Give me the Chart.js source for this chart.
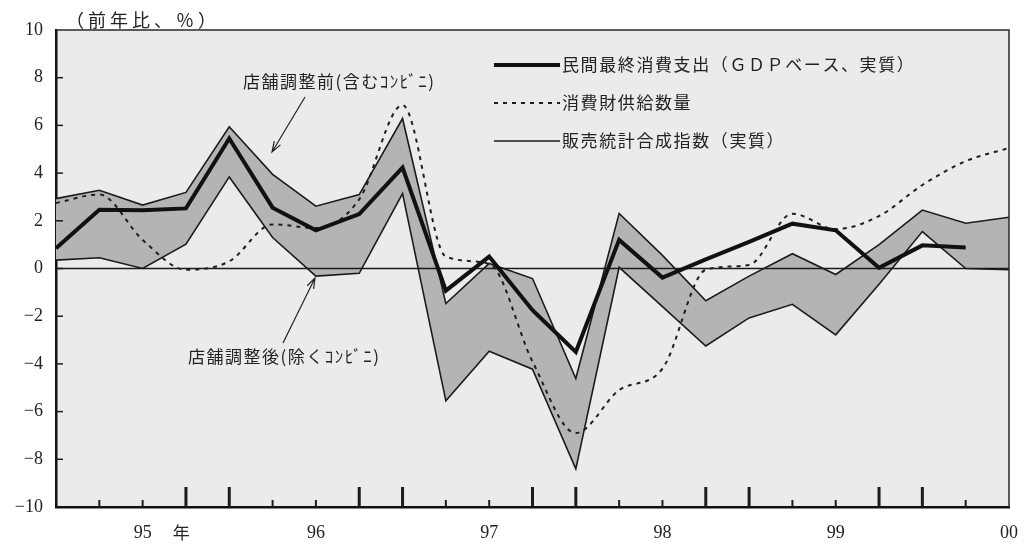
<!DOCTYPE html>
<html lang="ja">
<head>
<meta charset="utf-8">
<title>民間最終消費支出と販売統計</title>
<script src="https://cdn.jsdelivr.net/npm/chart.js@4.4.1/dist/chart.umd.min.js"></script>
<style>
    html, body { margin: 0; padding: 0; background: #ffffff; }
    #wrap { width: 1033px; height: 544px; }
</style>
</head>
<body>
<div id="wrap"><canvas id="consumptionChart" width="1033" height="544"></canvas></div>
<script>
// quarterly points, 95 through 00 (label sits under the 3rd tick of each year)
var quarterLabels = ['', '', '95', '', '', '', '96', '', '', '', '97', '', '', '', '98', '', '', '', '99', '', '', '', '00'];

// 民間最終消費支出（GDPベース、実質）
var gdpConsumption = [0.85, 2.46, 2.44, 2.52, 5.45, 2.55, 1.60, 2.28, 4.23, -0.93, 0.50, -1.75, -3.50, 1.20, -0.38, 0.38, 1.12, 1.88, 1.60, 0.03, 0.97, 0.88, null];
// 消費財供給数量
var goodsSupply = [2.75, 3.10, 1.20, -0.05, 0.30, 1.85, 1.70, 2.90, 6.85, 0.50, 0.20, -3.90, -6.90, -5.10, -4.20, -0.05, 0.15, 2.30, 1.65, 2.20, 3.50, 4.50, 5.05];
// 販売統計合成指数（実質）: 店舗調整前 / 店舗調整後
var salesBefore = [2.93, 3.28, 2.66, 3.19, 5.94, 3.95, 2.61, 3.10, 6.29, -1.47, 0.21, -0.42, -4.61, 2.31, 0.55, -1.35, -0.32, 0.62, -0.25, 1.00, 2.45, 1.90, 2.15];
var salesAfter = [0.35, 0.45, 0.00, 1.02, 3.84, 1.30, -0.32, -0.20, 3.14, -5.55, -3.47, -4.22, -8.40, 0.05, -1.60, -3.25, -2.07, -1.50, -2.78, -0.66, 1.55, 0.00, -0.05];

var yTickValues = [-10, -8, -6, -4, -2, 0, 2, 4, 6, 8, 10];

var serifFont = "'Liberation Serif', 'Noto Sans CJK JP', serif";
var cjkFont = "'Noto Sans CJK JP', 'Liberation Serif', sans-serif";
var ink = '#1b1b1b';

function drawArrow(ctx, x1, y1, x2, y2) {
    var ang = Math.atan2(y2 - y1, x2 - x1);
    var len = 11, spread = 0.33;
    ctx.beginPath();
    ctx.moveTo(x1, y1);
    ctx.lineTo(x2, y2);
    ctx.moveTo(x2 - len * Math.cos(ang - spread), y2 - len * Math.sin(ang - spread));
    ctx.lineTo(x2, y2);
    ctx.lineTo(x2 - len * Math.cos(ang + spread), y2 - len * Math.sin(ang + spread));
    ctx.stroke();
}

var decorations = {
    id: 'decorations',
    beforeDraw: function(chart) {
        var ca = chart.chartArea, ctx = chart.ctx;
        ctx.save();
        ctx.fillStyle = '#ebebea';
        ctx.fillRect(ca.left, ca.top, ca.right - ca.left, ca.bottom - ca.top);
        ctx.restore();
    },
    beforeDatasetsDraw: function(chart) {
        // zero line over the shaded band, under the series lines
        var ca = chart.chartArea, ctx = chart.ctx;
        var y0 = chart.scales.y.getPixelForValue(0);
        ctx.save();
        ctx.strokeStyle = ink;
        ctx.lineWidth = 1.5;
        ctx.beginPath();
        ctx.moveTo(ca.left, y0);
        ctx.lineTo(ca.right, y0);
        ctx.stroke();
        ctx.restore();
    },
    afterDraw: function(chart) {
        var ca = chart.chartArea, ctx = chart.ctx;
        var xs = chart.scales.x, ys = chart.scales.y;
        ctx.save();

        // top and right frame
        ctx.strokeStyle = '#2a2a2a';
        ctx.lineWidth = 1.5;
        ctx.beginPath();
        ctx.moveTo(ca.left, ca.top);
        ctx.lineTo(ca.right, ca.top);
        ctx.lineTo(ca.right, ca.bottom);
        ctx.stroke();

        // inward tick marks on the x axis
        ctx.strokeStyle = ink;
        for (var k = 1; k < quarterLabels.length - 1; k++) {
            var big = (k % 4 === 3 || k % 4 === 0);
            var px = xs.getPixelForValue(k);
            ctx.lineWidth = big ? 3 : 2;
            ctx.beginPath();
            ctx.moveTo(px, ca.bottom);
            ctx.lineTo(px, ca.bottom - (big ? 20 : 7));
            ctx.stroke();
        }
        // inward tick marks on the y axis
        ctx.lineWidth = 1.5;
        yTickValues.forEach(function(v) {
            if (v === -10 || v === 10) return;
            var py = ys.getPixelForValue(v);
            ctx.beginPath();
            ctx.moveTo(ca.left, py);
            ctx.lineTo(ca.left + 7, py);
            ctx.stroke();
        });

        // unit title and 年
        ctx.fillStyle = '#222';
        ctx.textBaseline = 'middle';
        ctx.textAlign = 'left';
        ctx.font = '18px ' + cjkFont;
        ctx.letterSpacing = '4px';
        ctx.fillText('（前年比、％）', 66, 20);
        ctx.letterSpacing = '0px';
        ctx.font = '17px ' + cjkFont;
        ctx.fillText('年', xs.getPixelForValue(2) + 30, 533);

        // legend inside the plot
        var rows = [0, 1, 2];
        rows.forEach(function(idx, r) {
            var ds = chart.data.datasets[idx];
            var ly = ca.top + 35 + r * 38;
            var lx = ca.left + 438;
            ctx.strokeStyle = ds.borderColor;
            ctx.lineWidth = ds.borderWidth;
            ctx.setLineDash(ds.borderDash || []);
            ctx.beginPath();
            ctx.moveTo(lx, ly);
            ctx.lineTo(lx + 66, ly);
            ctx.stroke();
            ctx.setLineDash([]);
            ctx.fillStyle = '#222';
            ctx.font = '17px ' + cjkFont;
            ctx.letterSpacing = '1.6px';
            ctx.fillText(ds.label, lx + 68, ly);
            ctx.letterSpacing = '0px';
        });

        // band annotations
        ctx.font = '17px ' + cjkFont;
        ctx.letterSpacing = '1.5px';
        ctx.fillStyle = '#222';
        ctx.fillText('店舗調整前(含むｺﾝﾋﾞﾆ)', 243, 82);
        ctx.fillText('店舗調整後(除くｺﾝﾋﾞﾆ)', 188, 357);
        ctx.letterSpacing = '0px';
        ctx.strokeStyle = '#222';
        ctx.lineWidth = 1.2;
        drawArrow(ctx, 305, 97, 272, 152);
        drawArrow(ctx, 283, 343, 315, 278);

        ctx.restore();
    }
};

new Chart(document.getElementById('consumptionChart').getContext('2d'), {
    type: 'line',
    data: {
        labels: quarterLabels,
        datasets: [
            {
                label: '民間最終消費支出（ＧＤＰベース、実質）',
                data: gdpConsumption,
                borderColor: '#111111',
                borderWidth: 4,
                pointRadius: 0,
                tension: 0,
                fill: false,
                order: 1
            },
            {
                label: '消費財供給数量',
                data: goodsSupply,
                borderColor: '#1e1e1e',
                borderWidth: 2,
                borderDash: [4, 5],
                pointRadius: 0,
                cubicInterpolationMode: 'monotone',
                fill: false,
                order: 2
            },
            {
                label: '販売統計合成指数（実質）',
                data: salesBefore,
                borderColor: ink,
                borderWidth: 1.6,
                pointRadius: 0,
                tension: 0,
                fill: '+1',
                backgroundColor: '#b4b4b3',
                order: 3
            },
            {
                label: '店舗調整後（除くコンビニ）',
                data: salesAfter,
                borderColor: ink,
                borderWidth: 1.6,
                pointRadius: 0,
                tension: 0,
                fill: false,
                order: 4
            }
        ]
    },
    options: {
        responsive: false,
        animation: false,
        devicePixelRatio: 1,
        layout: { padding: { top: 30, right: 16, bottom: 0, left: 0 } },
        plugins: {
            legend: { display: false },
            tooltip: { enabled: false },
            filler: { drawTime: 'beforeDatasetsDraw' }
        },
        scales: {
            x: {
                type: 'category',
                offset: false,
                grid: { display: false, drawTicks: false },
                border: { display: true, color: '#111', width: 2.5 },
                ticks: {
                    autoSkip: false,
                    maxRotation: 0,
                    padding: 15,
                    color: '#222',
                    font: { size: 18, family: serifFont }
                },
                afterFit: function(scale) { scale.height = 37; }
            },
            y: {
                min: -10,
                max: 10,
                grid: { display: false, drawTicks: false },
                border: { display: true, color: '#111', width: 2.5 },
                afterBuildTicks: function(scale) {
                    scale.ticks = yTickValues.map(function(v) { return { value: v }; });
                },
                ticks: {
                    padding: 13,
                    color: '#222',
                    font: { size: 18, family: serifFont },
                    callback: function(v) { return v < 0 ? '\u2212' + Math.abs(v) : String(v); }
                },
                afterFit: function(scale) { scale.width = 56; }
            }
        }
    },
    plugins: [decorations]
});
</script>
</body>
</html>
